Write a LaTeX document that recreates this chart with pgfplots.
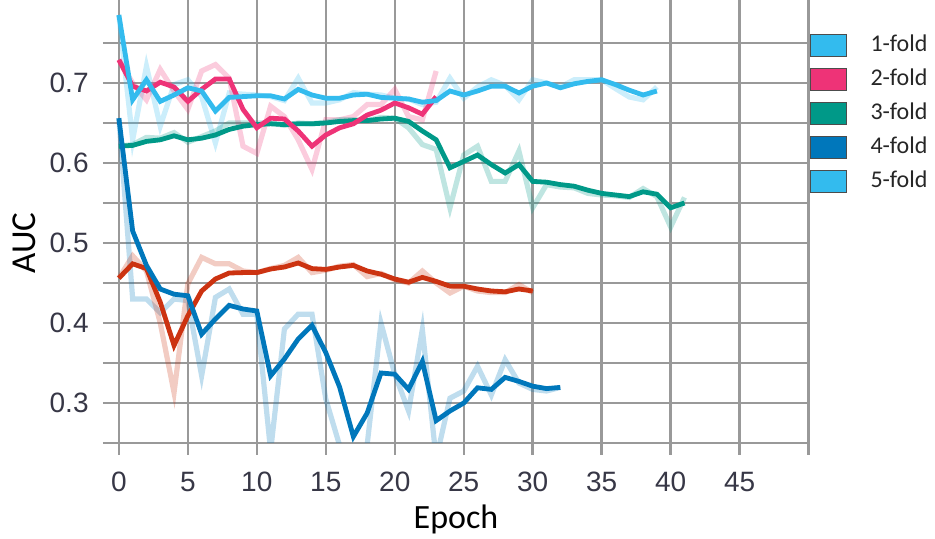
\documentclass[border=0pt]{standalone}
\usepackage{fontspec}
\usepackage{pgfplots}
\pgfplotsset{compat=1.18}
\usepackage{pgfplotstable}
\setmainfont{Carlito}
\newfontfamily\arialf{Liberation Sans}
\definecolor{ccyan}{RGB}{51,187,238}
\definecolor{cmag}{RGB}{238,51,119}
\definecolor{cteal}{RGB}{0,153,136}
\definecolor{cblue}{RGB}{0,119,187}
\definecolor{cred}{RGB}{204,51,17}
\definecolor{tickgray}{RGB}{55,55,70}

\pgfplotstableread{
e s r
0 0.785 0.785
1 0.679 0.629
2 0.704 0.721
3 0.677 0.646
4 0.685 0.698
5 0.694 0.704
6 0.690 0.683
7 0.665 0.625
8 0.682 0.6875
9 0.683 0.686
10 0.684 0.685
11 0.684 0.683
12 0.680 0.678
13 0.692 0.706
14 0.685 0.675
15 0.681 0.675
16 0.681 0.679
17 0.685 0.688
18 0.686 0.686
19 0.682 0.685
20 0.681 0.681
21 0.680 0.680
22 0.676 0.673
23 0.678 0.676
24 0.690 0.706
25 0.685 0.681
26 0.690 0.695
27 0.696 0.704
28 0.696 0.697
29 0.6875 0.679
30 0.696 0.704
31 0.700 0.700
32 0.694 0.695
33 0.699 0.704
34 0.702 0.704
35 0.704 0.704
36 0.698 0.693
37 0.691 0.6825
38 0.685 0.679
39 0.690 0.695
}\foldA

\pgfplotstableread{
e s r
0 0.729 0.729
1 0.696 0.700
2 0.690 0.679
3 0.701 0.717
4 0.695 0.690
5 0.677 0.667
6 0.692 0.715
7 0.705 0.723
8 0.705 0.706
9 0.667 0.621
10 0.644 0.612
11 0.656 0.671
12 0.655 0.658
13 0.640 0.629
14 0.621 0.592
15 0.635 0.654
16 0.644 0.654
17 0.649 0.658
18 0.660 0.673
19 0.666 0.673
20 0.675 0.692
21 0.669 0.658
22 0.661 0.654
23 0.683 0.715
}\foldB

\pgfplotstableread{
e s r
0 0.621 0.621
1 0.622 0.623
2 0.627 0.632
3 0.629 0.631
4 0.634 0.638
5 0.629 0.626
6 0.631 0.633
7 0.635 0.640
8 0.642 0.650
9 0.646 0.650
10 0.648 0.650
11 0.649 0.650
12 0.648 0.647
13 0.649 0.650
14 0.649 0.649
15 0.650 0.651
16 0.652 0.654
17 0.653 0.654
18 0.653 0.653
19 0.655 0.657
20 0.656 0.656
21 0.652 0.644
22 0.640 0.623
23 0.629 0.617
24 0.594 0.544
25 0.602 0.610
26 0.610 0.621
27 0.598 0.577
28 0.5875 0.577
29 0.598 0.615
30 0.577 0.544
31 0.576 0.573
32 0.573 0.570
33 0.571 0.569
34 0.566 0.562
35 0.562 0.560
36 0.560 0.559
37 0.558 0.557
38 0.564 0.568
39 0.561 0.558
40 0.544 0.520
41 0.550 0.557
}\foldC

\pgfplotstableread{
e s r
0 0.656 0.656
1 0.515 0.430
2 0.472 0.430
3 0.4425 0.413
4 0.436 0.430
5 0.434 0.428
6 0.386 0.334
7 0.405 0.432
8 0.422 0.4425
9 0.4175 0.411
10 0.415 0.411
11 0.334 0.240
12 0.355 0.3925
13 0.380 0.411
14 0.397 0.411
15 0.363 0.305
16 0.320 0.247
17 0.258 0.220
18 0.2875 0.248
19 0.3375 0.400
20 0.336 0.336
21 0.317 0.290
22 0.352 0.392
23 0.278 0.230
24 0.290 0.306
25 0.300 0.315
26 0.319 0.346
27 0.317 0.310
28 0.332 0.354
29 0.327 0.325
30 0.321 0.317
31 0.318 0.315
32 0.3195 0.3195
}\foldD

\pgfplotstableread{
e s r
0 0.456 0.456
1 0.474 0.484
2 0.468 0.465
3 0.426 0.400
4 0.372 0.313
5 0.409 0.449
6 0.440 0.482
7 0.455 0.474
8 0.4625 0.474
9 0.463 0.465
10 0.463 0.463
11 0.4675 0.468
12 0.470 0.472
13 0.475 0.482
14 0.468 0.463
15 0.467 0.466
16 0.470 0.471
17 0.472 0.473
18 0.465 0.458
19 0.461 0.462
20 0.455 0.454
21 0.451 0.450
22 0.457 0.465
23 0.452 0.450
24 0.446 0.4375
25 0.446 0.446
26 0.4425 0.440
27 0.440 0.438
28 0.439 0.438
29 0.4425 0.448
30 0.440 0.438
}\foldE

\pgfplotsset{
  legbox/.style={legend image code/.code={%
    \draw[draw=black!70, fill=#1, line width=0.5pt] (0pt,-5.5pt) rectangle (18pt,5.5pt);
    \path[draw=none, fill=none] (0pt,0pt) -- (30pt,0pt);}},
}

\begin{document}
\begin{tikzpicture}
\begin{axis}[
  at={(0,0)}, anchor=south west,
  scale only axis, width=353.5pt, height=218pt,
  xmin=-1.15, xmax=50.1, ymin=0.25, ymax=0.795,
  axis line style={draw=none},
  xtick={0,5,...,50},
  xticklabels={0,5,10,15,20,25,30,35,40,45,{}},
  ytick={0.3,0.4,0.5,0.6,0.7},
  yticklabels={0.3,0.4,0.5,0.6,0.7},
  minor ytick={0.25,0.35,0.45,0.55,0.65,0.75},
  extra x ticks={0}, extra x tick labels={},
  extra x tick style={grid style={black!42, line width=2.6pt}, major tick length=0pt},
  grid=both,
  major grid style={black!40, line width=1.25pt},
  minor grid style={black!40, line width=1.25pt},
  tick align=outside, major tick length=6pt, minor tick length=0pt,
  xtick style={black!40, line width=1.25pt},
  ytick style={draw=none},
  /pgf/number format/assume math mode=true,
  ticklabel style={font=\arialf\fontsize{14}{16}\selectfont, text=tickgray},
  yticklabel style={anchor=east, inner sep=0pt, xshift=-1pt},
  xticklabel style={anchor=center, inner sep=0pt, yshift=-13.5pt},
  every axis y label/.style={at={(axis description cs:-0.1117,0.4587)}, rotate=90, anchor=center},
  every axis x label/.style={at={(axis description cs:0.4993,-0.195)}, anchor=base},
  ylabel={\fontsize{17.5}{20}\selectfont AUC},
  xlabel={\fontsize{17}{20}\selectfont Epoch},
  legend style={draw=none, fill=none, at={(rel axis cs:1,1)}, anchor=north west,
    inner sep=0pt, outer sep=0pt, yshift=-13.5pt, row sep=5.5pt,
    font=\fontsize{12}{14}\selectfont, text=black!85,
    nodes={inner sep=0pt, text height=8.5pt, text depth=2.5pt}},
  legend cell align=left,
]
\addlegendimage{legbox=ccyan}\addlegendentry{1-fold}
\addlegendimage{legbox=cmag}\addlegendentry{2-fold}
\addlegendimage{legbox=cteal}\addlegendentry{3-fold}
\addlegendimage{legbox=cblue}\addlegendentry{4-fold}
\addlegendimage{legbox=ccyan}\addlegendentry{5-fold}

\addplot[forget plot, ccyan, opacity=0.25, line width=2.6pt] table[x=e,y=r] {\foldA};
\addplot[forget plot, cmag, opacity=0.25, line width=2.6pt] table[x=e,y=r] {\foldB};
\addplot[forget plot, cteal, opacity=0.25, line width=2.6pt] table[x=e,y=r] {\foldC};
\addplot[forget plot, cblue, opacity=0.25, line width=2.6pt] table[x=e,y=r] {\foldD};
\addplot[forget plot, cred, opacity=0.25, line width=2.6pt] table[x=e,y=r] {\foldE};

\addplot[forget plot, cred, line width=2.4pt] table[x=e,y=s] {\foldE};
\addplot[forget plot, cteal, line width=2.4pt] table[x=e,y=s] {\foldC};
\addplot[forget plot, cblue, line width=2.4pt] table[x=e,y=s] {\foldD};
\addplot[forget plot, cmag, line width=2.4pt] table[x=e,y=s] {\foldB};
\addplot[forget plot, ccyan, line width=2.4pt] table[x=e,y=s] {\foldA};
\end{axis}
\pgfresetboundingbox
\path[use as bounding box] (-51.5pt,-48pt) rectangle (416pt,221.5pt);
\end{tikzpicture}
\end{document}
